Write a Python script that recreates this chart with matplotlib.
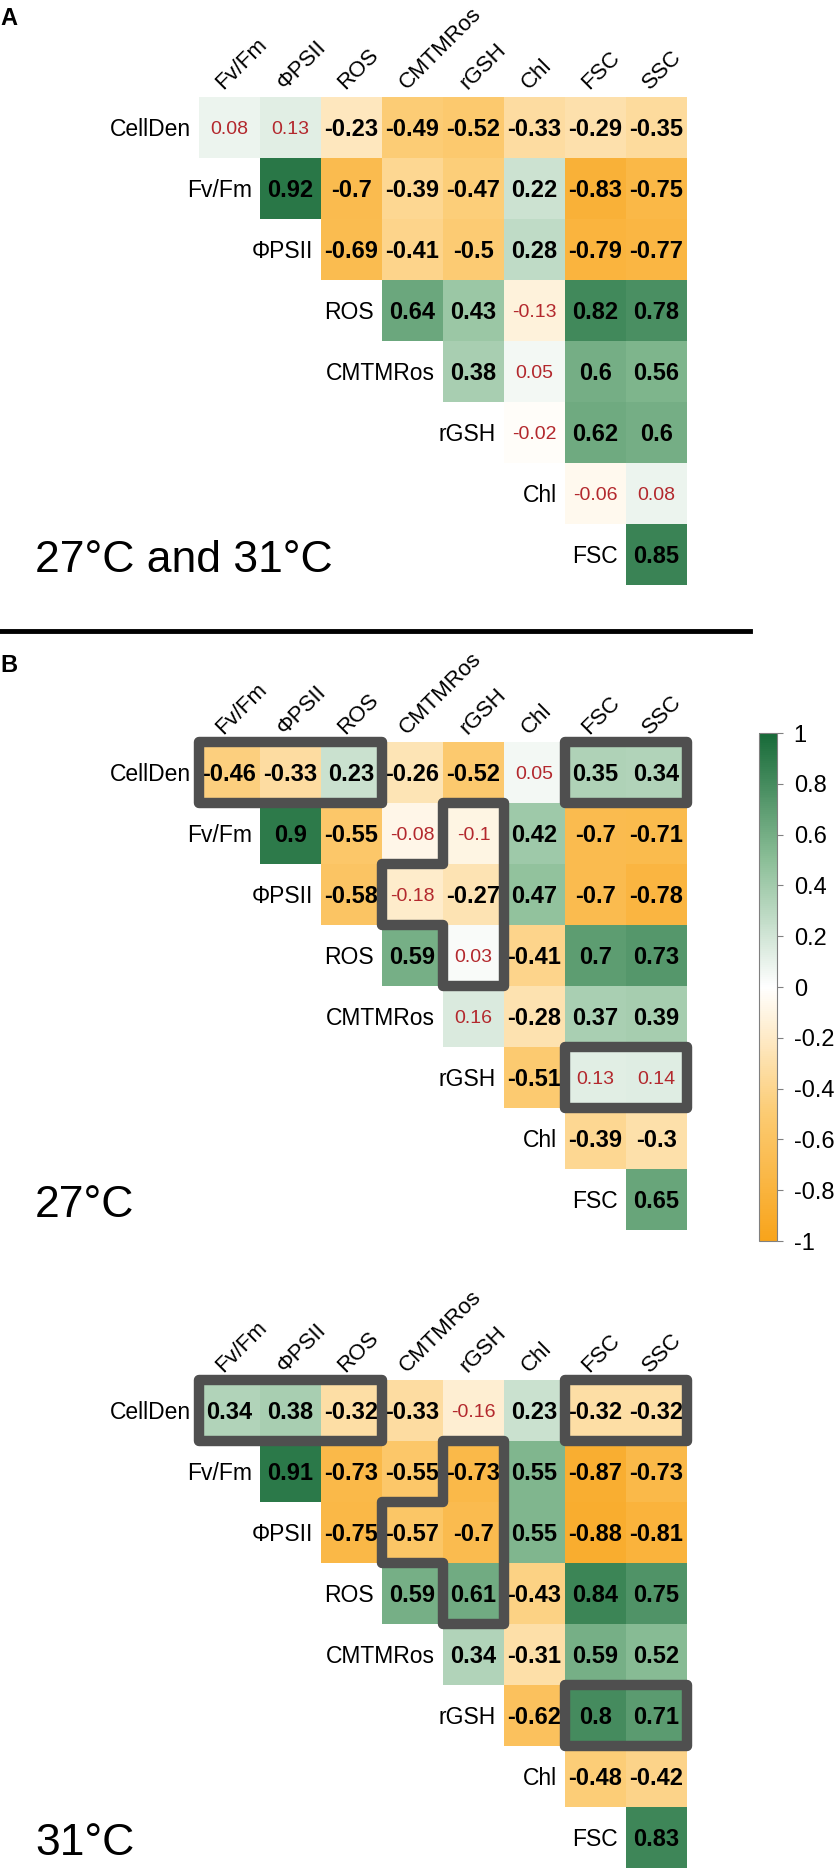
import numpy as np
import matplotlib
matplotlib.use('Agg')
import matplotlib.pyplot as plt
from matplotlib.colors import LinearSegmentedColormap, Normalize
from matplotlib.path import Path
from matplotlib.patches import PathPatch
import matplotlib.colorbar as mcolorbar

plt.rcParams['font.family'] = ['Liberation Sans', 'DejaVu Sans']
plt.rcParams['axes.unicode_minus'] = False

rows = ['CellDen', 'Fv/Fm', 'ΦPSII', 'ROS', 'CMTMRos', 'rGSH', 'Chl', 'FSC']
cols = ['Fv/Fm', 'ΦPSII', 'ROS', 'CMTMRos', 'rGSH', 'Chl', 'FSC', 'SSC']

# upper triangle, one list per row (starting at the diagonal)
corr_all = [
    [0.08, 0.13, -0.23, -0.49, -0.52, -0.33, -0.29, -0.35],
    [0.92, -0.7, -0.39, -0.47, 0.22, -0.83, -0.75],
    [-0.69, -0.41, -0.5, 0.28, -0.79, -0.77],
    [0.64, 0.43, -0.13, 0.82, 0.78],
    [0.38, 0.05, 0.6, 0.56],
    [-0.02, 0.62, 0.6],
    [-0.06, 0.08],
    [0.85],
]
corr_27 = [
    [-0.46, -0.33, 0.23, -0.26, -0.52, 0.05, 0.35, 0.34],
    [0.9, -0.55, -0.08, -0.1, 0.42, -0.7, -0.71],
    [-0.58, -0.18, -0.27, 0.47, -0.7, -0.78],
    [0.59, 0.03, -0.41, 0.7, 0.73],
    [0.16, -0.28, 0.37, 0.39],
    [-0.51, 0.13, 0.14],
    [-0.39, -0.3],
    [0.65],
]
corr_31 = [
    [0.34, 0.38, -0.32, -0.33, -0.16, 0.23, -0.32, -0.32],
    [0.91, -0.73, -0.55, -0.73, 0.55, -0.87, -0.73],
    [-0.75, -0.57, -0.7, 0.55, -0.88, -0.81],
    [0.59, 0.61, -0.43, 0.84, 0.75],
    [0.34, -0.31, 0.59, 0.52],
    [-0.62, 0.8, 0.71],
    [-0.48, -0.42],
    [0.83],
]
titles = ['27°C and 31°C', '27°C', '31°C']
cbar_ticks = [-1, -0.8, -0.6, -0.4, -0.2, 0, 0.2, 0.4, 0.6, 0.8, 1]
cbar_labels = ['-1', '-0.8', '-0.6', '-0.4', '-0.2', '0', '0.2', '0.4', '0.6', '0.8', '1']

# highlighted groups (cell boundary polygons, x = column, y = row)
boxes = [
    [(0, 0), (3, 0), (3, 1), (0, 1)],
    [(6, 0), (8, 0), (8, 1), (6, 1)],
    [(4, 1), (5, 1), (5, 4), (4, 4), (4, 3), (3, 3), (3, 2), (4, 2)],
    [(6, 5), (8, 5), (8, 6), (6, 6)],
]

cmap = LinearSegmentedColormap.from_list(
    'og', ['#F8A41B', '#FCCB72', '#FFFFFF', '#8CBF98', '#176A38'])
norm = Normalize(-1, 1)

W, H = 836, 1871
fig = plt.figure(figsize=(W / 100, H / 100), dpi=100)


def fx(px):
    return px / W


def fy(py):
    return 1 - py / H


def to_matrix(tri):
    m = np.full((8, 8), np.nan)
    for i, r in enumerate(tri):
        m[i, i:] = r
    return np.ma.masked_invalid(m)


def fmt(v):
    return '{:g}'.format(v)


def heatmap(tri, top, title, draw_boxes):
    left, size = 199, 488
    ax = fig.add_axes([fx(left), fy(top + size), fx(size), size / H])
    m = to_matrix(tri)
    ax.pcolormesh(np.arange(9), np.arange(9), m, cmap=cmap, norm=norm)
    ax.set_xlim(0, 8)
    ax.set_ylim(8, 0)
    ax.axis('off')
    for i in range(8):
        for j in range(i, 8):
            v = m[i, j]
            if abs(v) < 0.2:
                ax.text(j + 0.5, i + 0.53, fmt(v), ha='center', va='center',
                        fontsize=14, color='#B3282D')
            else:
                ax.text(j + 0.5, i + 0.53, fmt(v), ha='center', va='center',
                        fontsize=17, fontweight='bold', color='black')
        ax.text(i - 0.13, i + 0.53, rows[i], ha='right', va='center',
                fontsize=16.5, clip_on=False)
    for j, c in enumerate(cols):
        ax.text(j + 0.4, -0.12, c, rotation=45, rotation_mode='anchor',
                ha='left', va='baseline', fontsize=16, clip_on=False)
    if draw_boxes:
        for b in boxes:
            verts = b + [b[0]]
            codes = [Path.MOVETO] + [Path.LINETO] * (len(b) - 1) + [Path.CLOSEPOLY]
            ax.add_patch(PathPatch(Path(verts, codes), facecolor='none',
                                   edgecolor='#4F4F4F', lw=7.5,
                                   joinstyle='round', clip_on=False, zorder=5))
    fig.text(fx(35), fy(top + size - 13), title, fontsize=32,
             ha='left', va='baseline')
    return ax


heatmap(corr_all, 97, titles[0], False)
heatmap(corr_27, 742, titles[1], True)
heatmap(corr_31, 1380, titles[2], True)

fig.text(fx(0), fy(25), 'A', fontsize=17, fontweight='bold', ha='left', va='baseline')
fig.text(fx(0), fy(672), 'B', fontsize=17, fontweight='bold', ha='left', va='baseline')
fig.add_artist(plt.Line2D([0, fx(750)], [fy(631), fy(631)], color='black', lw=3.5))

cax = fig.add_axes([fx(759), fy(1241), fx(18), 508 / H])
cb = mcolorbar.ColorbarBase(cax, cmap=cmap, norm=norm, ticks=cbar_ticks)
cb.ax.set_yticklabels(cbar_labels, fontsize=17)
cb.ax.tick_params(length=4, width=0.8, color='#808080', pad=8)
cb.outline.set_edgecolor('#808080')
cb.outline.set_linewidth(0.8)

fig.savefig('out.png', dpi=100)
